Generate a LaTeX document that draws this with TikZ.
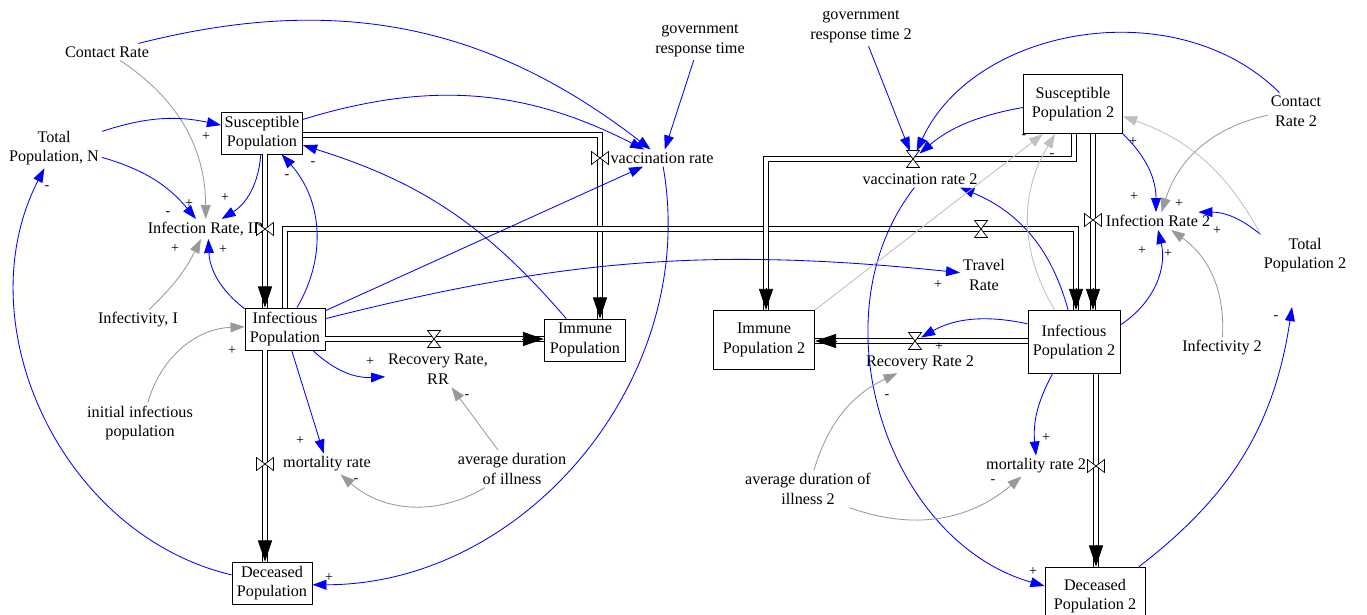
\documentclass[tikz,border=0pt]{standalone}
\usepackage{fontspec}
\setmainfont{Liberation Serif}
\usetikzlibrary{arrows.meta}

\begin{document}
\begin{tikzpicture}[x=0.025cm,y=0.025cm,
	every node/.style={font=\fontsize{11.5}{14}\selectfont},
	stock/.style={draw, line width=0.6pt, fill=white, align=center, inner sep=1pt},
	aux/.style={align=center, inner sep=2pt},
	sgn/.style={font=\fontsize{10}{12}\selectfont, inner sep=0pt},
	pipe/.style={double, double distance=2.8pt, line width=0.6pt},
	ptip/.style={-{Triangle[length=15pt,width=10pt]}, line width=0.6pt},
	lnk/.style={blue, line width=0.6pt, -{Triangle[length=10pt,width=7pt]}},
	glnk/.style={lnk, color=black!40},
	lglnk/.style={lnk, color=black!25},
	valve/.pic={\draw[line width=0.5pt, fill=white] (-6.5,-8.5) -- (6.5,8.5) -- (-6.5,8.5) -- (6.5,-8.5) -- cycle;}]
	\useasboundingbox (0,0) rectangle (1367,-615);

	\node[stock, minimum width=2.03cm, minimum height=1.05cm] (SP) at (262,-133) {Susceptible\\Population};
	\node[stock, minimum width=2cm, minimum height=1.05cm] (IP) at (285,-329) {Infectious\\Population};
	\node[stock, minimum width=2.03cm, minimum height=1.05cm] (ImP) at (585,-340) {Immune\\Population};
	\node[stock, minimum width=2cm, minimum height=1.05cm] (DP) at (272,-583) {Deceased\\Population};
	\node[stock, minimum width=2.48cm, minimum height=1.48cm] (SP2) at (1073,-104) {Susceptible\\Population 2};
	\node[stock, minimum width=2.3cm, minimum height=1.58cm] (IP2) at (1074,-342) {Infectious\\Population 2};
	\node[stock, minimum width=2.53cm, minimum height=1.48cm] (ImP2) at (764,-340) {Immune\\Population 2};
	\node[stock, minimum width=2.5cm, minimum height=1.45cm] (DP2) at (1095,-596) {Deceased\\Population 2};

	\node[aux] (CR) at (107,-52) {Contact Rate};
	\node[aux] (TPN) at (54,-148) {Total\\Population, N};
	\node[aux] (IR) at (206,-229) {Infection Rate, IR};
	\node[aux] (II) at (138,-320) {Infectivity, I};
	\node[aux] (IIP) at (140,-423) {initial infectious\\population};
	\node[aux] (RR) at (438,-369) {Recovery Rate,\\RR};
	\node[aux] (MR) at (327,-464) {mortality rate};
	\node[aux] (ADI) at (512,-469) {average duration\\of illness};
	\node[aux] (VR) at (662,-158) {vaccination rate};
	\node[aux] (GRT) at (700,-41) {government\\response time};
	\node[aux] (GRT2) at (861,-27) {government\\response time 2};
	\node[aux] (VR2) at (920,-179) {vaccination rate 2};
	\node[aux] (TR) at (984,-275) {Travel\\Rate};
	\node[aux] (CR2) at (1296,-111) {Contact\\Rate 2};
	\node[aux] (IR2) at (1158,-221) {Infection Rate 2};
	\node[aux] (TP2) at (1305,-255) {Total\\Population 2};
	\node[aux] (I2) at (1222,-348) {Infectivity 2};
	\node[aux] (ADI2) at (808,-489) {average duration of\\illness 2};
	\node[aux] (MR2) at (1036,-466) {mortality rate 2};
	\node[aux] (RR2) at (920,-363) {Recovery Rate 2};

	\coordinate (vIR) at (265,-229);
	\coordinate (vRR) at (434,-339);
	\coordinate (vMR) at (265,-464);
	\coordinate (vVR) at (600,-158);
	\coordinate (vTR) at (981,-229);
	\coordinate (vIR2) at (1093,-220);
	\coordinate (vVR2) at (913,-159);
	\coordinate (vRR2) at (915,-341);
	\coordinate (vMR2) at (1096,-466);
	\coordinate (cVR) at (600,-135);
	\coordinate (cT1) at (285,-229);
	\coordinate (cT2) at (1076,-229);
	\coordinate (cV1) at (1074,-159);
	\coordinate (cV2) at (766,-159);
	\coordinate (TP2in) at (1292,-307);

	\draw[pipe] (vIR |- SP.south) -- (vIR |- IP.north);
	\draw[pipe] (IP.east |- vRR) -- (ImP.west |- vRR);
	\draw[pipe] (vMR |- IP.south) -- (vMR |- DP.north);
	\draw[pipe] (SP.east |- cVR) -- (cVR) -- (cVR |- ImP.north);
	\draw[pipe] (cT1 |- IP.north) -- (cT1) -- (cT2) -- (cT2 |- IP2.north);
	\draw[pipe] (vIR2 |- SP2.south) -- (vIR2 |- IP2.north);
	\draw[pipe] (cV1 |- SP2.south) -- (cV1) -- (cV2) -- (cV2 |- ImP2.north);
	\draw[pipe] (IP2.west |- vRR2) -- (ImP2.east |- vRR2);
	\draw[pipe] (vMR2 |- IP2.south) -- (vMR2 |- DP2.north);

	\draw[ptip] (vIR |- IP.north) ++(0,22) -- ++(0,-22);
	\draw[ptip] (ImP.west |- vRR) ++(-22,0) -- ++(22,0);
	\draw[ptip] (vMR |- DP.north) ++(0,22) -- ++(0,-22);
	\draw[ptip] (cVR |- ImP.north) ++(0,22) -- ++(0,-22);
	\draw[ptip] (cT2 |- IP2.north) ++(0,22) -- ++(0,-22);
	\draw[ptip] (vIR2 |- IP2.north) ++(0,22) -- ++(0,-22);
	\draw[ptip] (cV2 |- ImP2.north) ++(0,22) -- ++(0,-22);
	\draw[ptip] (ImP2.east |- vRR2) ++(22,0) -- ++(-22,0);
	\draw[ptip] (vMR2 |- DP2.north) ++(0,22) -- ++(0,-22);

	\pic[rotate=90] at (vIR) {valve};
	\pic at (vRR) {valve};
	\pic[rotate=90] at (vMR) {valve};
	\pic[rotate=90] at (vVR) {valve};
	\pic at (vTR) {valve};
	\pic[rotate=90] at (vIR2) {valve};
	\pic at (vVR2) {valve};
	\pic at (vRR2) {valve};
	\pic[rotate=90] at (vMR2) {valve};

	\draw[lnk] (CR) to[bend left=26] (VR);
	\draw[glnk] (CR) to[bend left=28] (IR);
	\draw[lnk] (TPN) to[bend left=15] (SP);
	\draw[lnk] (TPN) to[bend left=17] (IR);
	\draw[lnk] (SP) to[bend left=27] (IR);
	\draw[glnk] (II) to[bend right=10] (IR);
	\draw[lnk] (IP) to[bend left=25] (IR);
	\draw[lnk] (IP) to[bend right=36] (SP);
	\draw[lnk] (ImP) to[bend right=16] (SP);
	\draw[lnk] (SP) to[bend left=22] (VR);
	\draw[lnk] (IP) -- (VR);
	\draw[lnk] (IP) to[bend left=10] (TR);
	\draw[lnk] (GRT) -- (VR);
	\draw[lnk] (VR) to[bend left=50] (DP);
	\draw[lnk] (DP) to[bend left=52] (TPN);
	\draw[glnk] (IIP) to[bend left=36] (IP);
	\draw[lnk] (IP) to[bend right=23] (RR);
	\draw[lnk] (IP) -- (MR);
	\draw[glnk] (ADI) -- (RR);
	\draw[glnk] (ADI) to[bend left=36] (MR);

	\draw[lnk, shorten >=6pt] (GRT2) -- (vVR2);
	\draw[lnk, shorten >=6pt] (CR2) to[bend right=55] (vVR2);
	\draw[lnk, shorten >=6pt] (SP2) to[bend right=15] (vVR2);
	\draw[lnk] (IP2) to[bend right=26] (VR2.-12);
	\draw[glnk] (CR2) to[bend right=30] (IR2);
	\draw[lnk] (SP2) to[bend left=23] (IR2);
	\draw[lnk] (TP2.north west) to[bend right=20] (IR2);
	\draw[lglnk] (TP2.north west) to[bend right=21] (SP2);
	\draw[glnk] (I2) to[bend right=29] (IR2);
	\draw[lnk] (IP2) to[bend right=35] (IR2);
	\draw[lnk] (DP2) to[bend right=22] (TP2in);
	\draw[lnk] (VR2) to[bend right=56] (DP2);
	\draw[lglnk] (ImP2.north east) -- (SP2.225);
	\draw[lglnk] (IP2) to[bend left=31] (SP2);
	\draw[lnk, shorten >=5pt] (IP2) to[bend right=21] (vRR2);
	\draw[lnk] (IP2) to[bend right=17] (MR2);
	\draw[glnk] (ADI2) to[bend left=24] (RR2);
	\draw[glnk] (ADI2) to[bend right=30] (MR2);

	\node[sgn] (s1) at (206,-137) {+};
	\node[sgn] (s2) at (189,-204) {+};
	\node[sgn] (s3) at (168,-214) {-};
	\node[sgn] (s4) at (225,-198) {+};
	\node[sgn] (s5) at (175,-249) {+};
	\node[sgn] (s6) at (223,-250) {+};
	\node[sgn] (s7) at (287,-177) {-};
	\node[sgn] (s8) at (313,-164) {-};
	\node[sgn] (s9) at (47,-188) {-};
	\node[sgn] (s10) at (232,-351) {+};
	\node[sgn] (s11) at (370,-362) {+};
	\node[sgn] (s12) at (300,-441) {+};
	\node[sgn] (s13) at (467,-397) {-};
	\node[sgn] (s14) at (356,-481) {-};
	\node[sgn] (s15) at (329,-578) {+};
	\node[sgn] (s16) at (938,-285) {+};
	\node[sgn] (s17) at (1024,-137) {-};
	\node[sgn] (s18) at (1052,-156) {-};
	\node[sgn] (s19) at (1133,-142) {+};
	\node[sgn] (s20) at (1134,-197) {+};
	\node[sgn] (s21) at (1179,-204) {+};
	\node[sgn] (s22) at (1217,-231) {+};
	\node[sgn] (s23) at (1142,-251) {+};
	\node[sgn] (s24) at (1168,-254) {+};
	\node[sgn] (s25) at (1276,-318) {-};
	\node[sgn] (s26) at (939,-347) {+};
	\node[sgn] (s27) at (887,-397) {-};
	\node[sgn] (s28) at (1046,-438) {+};
	\node[sgn] (s29) at (993,-482) {-};
	\node[sgn] (s30) at (1033,-572) {+};
\end{tikzpicture}
\end{document}
